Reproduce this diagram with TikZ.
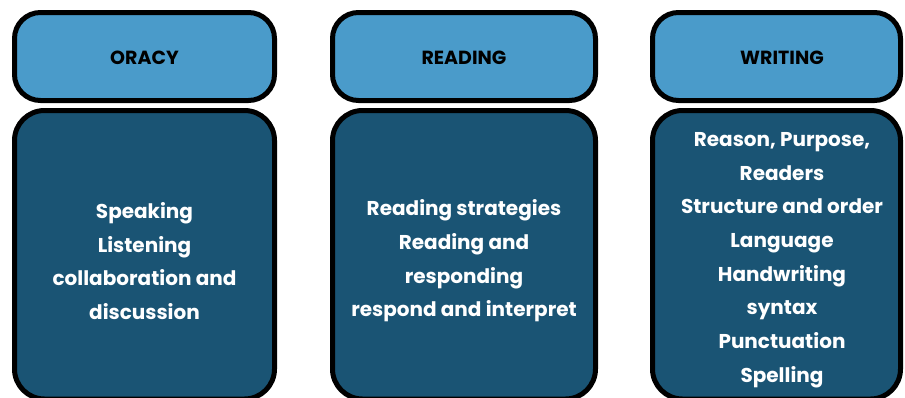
\documentclass[tikz,border=0pt]{standalone}
\usepackage{fontspec}
\setmainfont{Poppins}
\usetikzlibrary{shadows}
\definecolor{topblue}{RGB}{74,155,202}
\definecolor{deepblue}{RGB}{26,84,116}
\tikzset{
  x=1pt, y=-1pt,
  headbox/.style={draw=black, line width=5pt, fill=topblue, rounded corners=26pt,
    drop shadow={opacity=0.35, shadow xshift=1.5pt, shadow yshift=-1.5pt}},
  bodybox/.style={draw=black, line width=5pt, fill=deepblue, rounded corners=30pt,
    drop shadow={opacity=0.35, shadow xshift=1.5pt, shadow yshift=-1.5pt}},
  headtext/.style={font=\fontsize{19}{22}\selectfont\bfseries, text=black, anchor=center},
  bodytext/.style={font=\fontsize{20}{33.7}\selectfont\bfseries, text=white, align=center, anchor=center},
}
\begin{document}
\begin{tikzpicture}
\useasboundingbox (0,0) rectangle (905,397);
% column 1
\draw[headbox] (14.5,12.5) rectangle (274.5,100.5);
\draw[bodybox] (14.5,110.5) rectangle (274.5,399);
\node[headtext] (h1) at (144.5,58) {ORACY};
\node[bodytext] (b1) at (144.5,261) {Speaking\\Listening\\collaboration and\\discussion};
% column 2
\draw[headbox] (332.5,12.5) rectangle (595.5,100.5);
\draw[bodybox] (332.5,110.5) rectangle (595.5,399);
\node[headtext] (h2) at (464,58) {READING};
\node[bodytext] (b2) at (464,261) {Reading strategies\\Reading and\\responding\\respond and interpret};
% column 3
\draw[headbox] (652.5,12.5) rectangle (900.5,100.5);
\draw[bodybox] (652.5,110.5) rectangle (900.5,399);
\node[headtext] (h3) at (782,58) {WRITING};
\node[bodytext] (b3) at (782,260) {Reason, Purpose,\\Readers\\Structure and order\\Language\\Handwriting\\syntax\\Punctuation\\Spelling};
\end{tikzpicture}
\end{document}
